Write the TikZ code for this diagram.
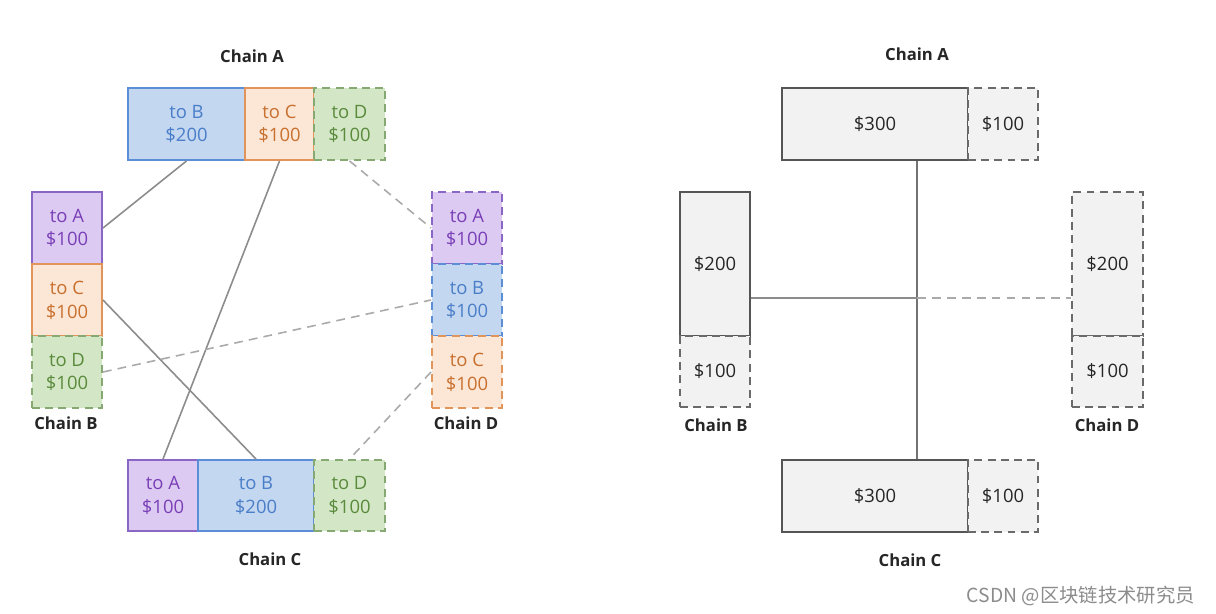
\documentclass[tikz,border=0pt]{standalone}
\usepackage{fontspec}
\setmainfont{Open Sans}
\newfontfamily\cjk{Noto Sans CJK SC}
\definecolor{bluefill}{HTML}{C3D7F0}
\definecolor{bluedraw}{HTML}{5B8ED6}
\definecolor{bluetext}{HTML}{4A7EC8}
\definecolor{orfill}{HTML}{FCE6D6}
\definecolor{ordraw}{HTML}{E2955A}
\definecolor{ortext}{HTML}{C8702E}
\definecolor{grfill}{HTML}{D3E7C6}
\definecolor{grdraw}{HTML}{86A872}
\definecolor{grtext}{HTML}{5A8A3C}
\definecolor{pufill}{HTML}{DCCAF2}
\definecolor{pudraw}{HTML}{8A67C4}
\definecolor{putext}{HTML}{7A3FB6}
\definecolor{gyfill}{HTML}{F2F2F2}
\definecolor{gydraw}{HTML}{555555}
\definecolor{gydash}{HTML}{6A6A6A}
\definecolor{link}{HTML}{8C8C8C}
\definecolor{linklight}{HTML}{AAAAAA}
\tikzset{
  cell/.style={inner sep=0pt, line width=1.1pt, align=center, font=\fontsize{10.5}{13.5}\selectfont},
  dashy/.style={dash pattern=on 4.5pt off 3pt},
  bluec/.style={cell, fill=bluefill, draw=bluedraw, text=bluetext},
  orc/.style={cell, fill=orfill, draw=ordraw, text=ortext},
  grc/.style={cell, fill=grfill, draw=grdraw, text=grtext},
  puc/.style={cell, fill=pufill, draw=pudraw, text=putext},
  gyc/.style={cell, fill=gyfill, draw=gydraw, text=black!85},
  gyd/.style={cell, fill=gyfill, draw=gydash, text=black!85, dashy},
  chainlbl/.style={font=\bfseries\fontsize{9.5}{11}\selectfont, text=black!85},
  conn/.style={draw=link, line width=0.9pt},
  dconn/.style={draw=linklight, line width=0.9pt, dash pattern=on 5pt off 3.5pt},
}
% style, name, x1, y1, x2, y2, text
\newcommand\mkcell[7]{%
  \node[#1, minimum width={(#5-#3)*0.02cm}, minimum height={(#6-#4)*0.02cm}]
    (#2) at ({(#3+#5)/2},{(#4+#6)/2}) {#7};}
\begin{document}
\begin{tikzpicture}[x=0.02cm, y=-0.02cm]
\useasboundingbox[fill=white] (0,0) rectangle (1216,614);

% ---------------- Left diagram ----------------
\node[chainlbl] (lA) at (252,56) {Chain A};
\node[chainlbl] (lB) at (66,423) {Chain B};
\node[chainlbl] (lD) at (466,423) {Chain D};
\node[chainlbl] (lC) at (270,559) {Chain C};

% Chain A
\mkcell{bluec}{Ab}{128}{88}{245}{160}{to B\\\$200}
\mkcell{orc}{Ao}{245}{88}{314}{160}{to C\\\$100}
\mkcell{grc,dashy}{Ag}{314}{88}{385}{160}{to D\\\$100}
% Chain B
\mkcell{puc}{Bp}{32}{192}{102}{264}{to A\\\$100}
\mkcell{orc}{Bo}{32}{264}{102}{336}{to C\\\$100}
\mkcell{grc,dashy}{Bg}{32}{336}{102}{408}{to D\\\$100}
% Chain D
\mkcell{puc,dashy}{Dp}{432}{192}{502}{264}{to A\\\$100}
\mkcell{bluec,dashy}{Db}{432}{264}{502}{336}{to B\\\$100}
\mkcell{orc,dashy}{Do}{432}{336}{502}{408}{to C\\\$100}
% Chain C
\mkcell{puc}{Cp}{128}{460}{198}{531}{to A\\\$100}
\mkcell{bluec}{Cb}{198}{460}{314}{531}{to B\\\$200}
\mkcell{grc,dashy}{Cg}{314}{460}{385}{531}{to D\\\$100}

\draw[conn] (Ab.south) -- (Bp.east);
\draw[conn] (Ao.south) -- (Cp.north);
\draw[conn] (Bo.east) -- (Cb.north);
\draw[dconn] (Ag.south) -- (Dp.west);
\draw[dconn] (Bg.east) -- (Db.west);
\draw[dconn] (Do.west) -- (Cg.north);

% ---------------- Right diagram ----------------
\node[chainlbl] (rA) at (917,54) {Chain A};
\node[chainlbl] (rB) at (716,425) {Chain B};
\node[chainlbl] (rD) at (1107,425) {Chain D};
\node[chainlbl] (rC) at (910,560) {Chain C};

\mkcell{gyc}{A3}{782}{88}{968}{160}{\$300}
\mkcell{gyd}{A1}{968}{88}{1038}{160}{\$100}
\mkcell{gyc}{B2}{680}{192}{750}{336}{\$200}
\mkcell{gyd}{B1}{680}{336}{750}{407}{\$100}
\mkcell{gyd}{D2}{1072}{192}{1143}{336}{\$200}
\mkcell{gyd}{D1}{1072}{336}{1143}{407}{\$100}
\mkcell{gyc}{C3}{782}{460}{968}{532}{\$300}
\mkcell{gyd}{C1}{968}{460}{1038}{532}{\$100}

\coordinate (vx) at (917,298);
\draw[conn, draw=black!55] (A3.south -| vx) -- (C3.north -| vx);
\draw[conn] (B2.east |- vx) -- (vx);
\draw[dconn] (vx) -- (D2.west |- vx);

% watermark
\node[font=\cjk\fontsize{11}{13}\selectfont, text=black!45, anchor=east] (wm) at (1201,596) {CSDN @区块链技术研究员};
\end{tikzpicture}
\end{document}
